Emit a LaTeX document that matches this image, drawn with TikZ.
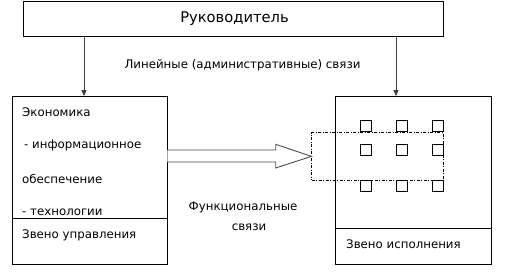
\documentclass[tikz,border=0pt]{standalone}
\usepackage{fontspec}
\setmainfont{DejaVu Sans}
\usetikzlibrary{arrows.meta}
\begin{document}
\begin{tikzpicture}[x=1pt,y=-1pt,
  box/.style={draw=black, line width=0.8pt, inner sep=0pt},
  lbl/.style={font=\fontsize{11.8}{13}\selectfont, inner sep=0pt, anchor=west},
  conn/.style={draw=black!75, line width=0.8pt, -{Triangle[width=5pt,length=6pt]}},
  sq/.style={draw=black, line width=0.7pt, minimum width=11pt, minimum height=11pt, inner sep=0pt},
  dashrect/.style={draw=black, line width=0.6pt, dash pattern=on 3pt off 1.5pt on 1pt off 1.5pt}
]
\useasboundingbox (0,0) rectangle (505,278);
% top box
\node[box, minimum width=420pt, minimum height=35pt] (top) at (233,18.5) {};
\node[font=\fontsize{14.7}{16}\selectfont, inner sep=0pt] (toptext) at (234.5,18.5) {Руководитель};
% left box
\node[box, minimum width=155pt, minimum height=167.5pt] (left) at (89.5,180.25) {};
\coordinate (ldiv) at (12,218);
\draw[line width=0.8pt] (ldiv) -- (ldiv -| left.east);
\node[lbl] (l1) at (22,112) {Экономика};
\node[lbl] (l2) at (24,145) {- информационное};
\node[lbl] (l3) at (22,179) {обеспечение};
\node[lbl] (l4) at (22,212.5) {- технологии};
\node[lbl] (l5) at (22,235) {Звено управления};
% right box
\node[box, minimum width=156pt, minimum height=167.5pt] (right) at (413,180.25) {};
\coordinate (rdiv) at (335,228);
\draw[line width=0.8pt] (rdiv) -- (rdiv -| right.east);
\node[lbl] (r1) at (346,244) {Звено исполнения};
% arrows
\coordinate (lx) at (84,0);
\coordinate (rx) at (396,0);
\draw[conn] (top.south -| lx) -- (left.north -| lx);
\draw[conn] (top.south -| rx) -- (right.north -| rx);
\node[lbl, anchor=center] (lin) at (242.5,65) {Линейные (административные) связи};
% dash-dot rectangle
\node[dashrect, minimum width=131.5pt, minimum height=47.3pt, inner sep=0pt] (grp) at (377.5,156.35) {};
% squares
\foreach \x [count=\i] in {365.5,401.5,437.5}{
  \foreach \y [count=\j] in {126.3,150,186.3}{
    \node[sq] (s\i\j) at (\x,\y) {};
  }
}
% block arrow
\draw[draw=black!70, line width=0.9pt, fill=white]
  (left.east |- 0,150) -- (275.7,150) -- (275.7,144.3) -- (grp.west) -- (275.7,168) -- (275.7,162) -- (left.east |- 0,162);
\node[lbl, anchor=center] (f1) at (243,207) {Функциональные};
\node[lbl, anchor=center] (f2) at (249,227) {связи};
\end{tikzpicture}
\end{document}
